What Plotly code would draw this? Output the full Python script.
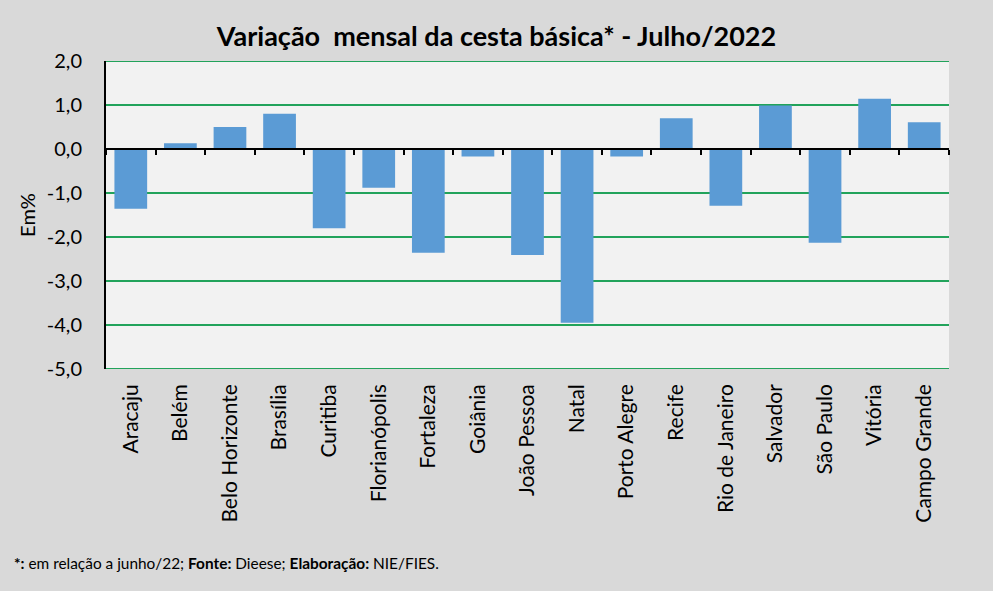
import plotly.graph_objects as go

cidades = ["Aracaju", "Belém", "Belo Horizonte", "Brasília", "Curitiba", "Florianópolis",
           "Fortaleza", "Goiânia", "João Pessoa", "Natal", "Porto Alegre", "Recife",
           "Rio de Janeiro", "Salvador", "São Paulo", "Vitória", "Campo Grande"]
variacao = [-1.36, 0.13, 0.50, 0.80, -1.80, -0.88, -2.36, -0.17, -2.41, -3.95, -0.17,
            0.70, -1.29, 0.99, -2.13, 1.14, 0.61]
y_ticks = [2, 1, 0, -1, -2, -3, -4, -5]
y_tick_labels = ["2,0", "1,0", "0,0", "-1,0", "-2,0", "-3,0", "-4,0", "-5,0"]

FONT = "Lato"
GREEN = "#22a35b"
ymin, ymax = -5, 2

fig = go.Figure()
fig.add_trace(go.Bar(x=cidades, y=variacao, marker=dict(color="#5b9bd5", line=dict(width=0)),
                     hoverinfo="x+y"))
# invisible copy to draw the category axis along the zero line
fig.add_trace(go.Bar(x=cidades, y=variacao, xaxis="x2", opacity=0, hoverinfo="skip",
                     showlegend=False))

fig.update_layout(
    width=993, height=591,
    paper_bgcolor="#d9d9d9", plot_bgcolor="#f2f2f2",
    margin=dict(l=106, r=44, t=61, b=222),
    bargap=0.34, showlegend=False,
    font=dict(family=FONT, color="#000000"),
    title=dict(text="<b>Variação  mensal da cesta básica* - Julho/2022</b>",
               x=0.5, xanchor="center", y=1 - 37 / 591, yanchor="middle",
               font=dict(size=27, family=FONT, color="#000000")),
    xaxis=dict(type="category", showgrid=False, zeroline=False, showline=False,
               ticks="", tickangle=-90, tickfont=dict(size=21, family=FONT),
               ticklabelstandoff=10, range=[-0.5, len(cidades) - 0.5]),
    xaxis2=dict(type="category", overlaying="x", matches="x", anchor="free",
                position=(0 - ymin) / (ymax - ymin), side="bottom",
                showticklabels=False, showgrid=False, zeroline=False,
                showline=True, linecolor="#000000", linewidth=2,
                ticks="outside", tickson="boundaries", ticklen=5, tickwidth=2,
                tickcolor="#000000"),
    yaxis=dict(range=[ymin, ymax], tickvals=y_ticks, ticktext=y_tick_labels,
               showgrid=True, gridcolor=GREEN, gridwidth=2, zeroline=False,
               showline=True, linecolor="#000000", linewidth=2, ticks="",
               tickfont=dict(size=20, family=FONT), ticklabelstandoff=18,
               title=dict(text="Em%", font=dict(size=20, family=FONT), standoff=6)),
)

# green gridlines at the top and bottom of the value range
for yv in (ymin, ymax):
    fig.add_shape(type="line", xref="paper", yref="y", x0=0, x1=1, y0=yv, y1=yv,
                  line=dict(color=GREEN, width=2), layer="below")

fig.add_annotation(
    text="<b>*:</b> em relação a junho/22; <b>Fonte:</b> Dieese; <b>Elaboração:</b> NIE/FIES.",
    xref="paper", yref="paper", x=(12 - 106) / 843, y=(369 - 563) / 308,
    xanchor="left", yanchor="middle", showarrow=False,
    font=dict(size=15.4, family=FONT, color="#000000"),
)

fig.write_html("out.html", config={"displayModeBar": False},
               post_script="document.body.style.margin='0';document.body.style.overflow='hidden';")
